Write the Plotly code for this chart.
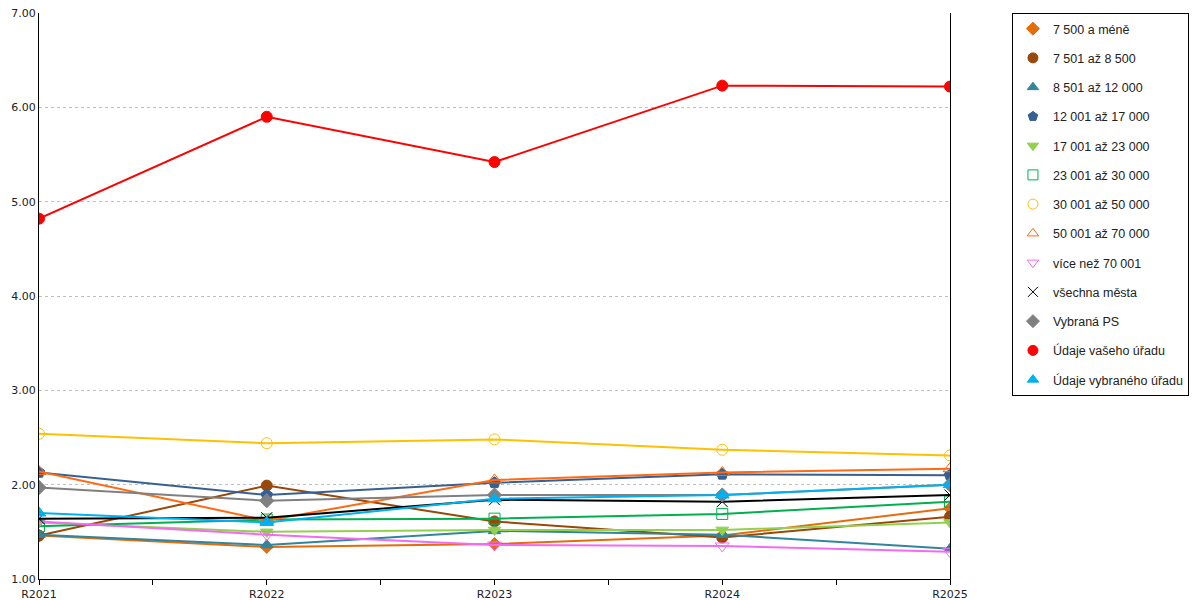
import plotly.graph_objects as go

years = ['R2021', 'R2022', 'R2023', 'R2024', 'R2025']

v_do_7500   = [1.46, 1.34, 1.37, 1.46, 1.75]
v_do_8500   = [1.46, 1.99, 1.61, 1.44, 1.66]
v_do_12000  = [1.47, 1.36, 1.51, 1.47, 1.32]
v_do_17000  = [2.13, 1.89, 2.02, 2.11, 2.10]
v_do_23000  = [1.60, 1.50, 1.52, 1.52, 1.60]
v_do_30000  = [1.56, 1.63, 1.64, 1.69, 1.82]
v_do_50000  = [2.54, 2.44, 2.48, 2.37, 2.31]
v_do_70000  = [2.14, 1.62, 2.05, 2.13, 2.17]
v_nad_70000 = [1.61, 1.47, 1.36, 1.35, 1.29]
v_vsechna   = [1.64, 1.65, 1.84, 1.82, 1.89]
v_ps        = [1.97, 1.83, 1.89, 1.89, 2.00]
v_vas       = [4.82, 5.90, 5.42, 6.23, 6.22]
v_vybrany   = [1.70, 1.60, 1.85, 1.89, 2.00]

# name, values, colour, symbol, marker size
series = [
    ('7 500 a méně',          v_do_7500,   '#E46C0A', 'diamond',            10),
    ('7 501 až 8 500',        v_do_8500,   '#984807', 'circle',             11),
    ('8 501 až 12 000',       v_do_12000,  '#31859C', 'triangle-up',        11),
    ('12 001 až 17 000',      v_do_17000,  '#376092', 'pentagon',           12),
    ('17 001 až 23 000',      v_do_23000,  '#92D050', 'triangle-down',      11),
    ('23 001 až 30 000',      v_do_30000,  '#00B050', 'square-open',        11),
    ('30 001 až 50 000',      v_do_50000,  '#FFC000', 'circle-open',        11),
    ('50 001 až 70 000',      v_do_70000,  '#FF6A13', 'triangle-up-open',   12),
    ('více než 70 001',       v_nad_70000, '#F36BF3', 'triangle-down-open', 12),
    ('všechna města',         v_vsechna,   '#000000', 'x-thin-open',        11),
    ('Vybraná PS',            v_ps,        '#808080', 'diamond',            11),
    ('Údaje vašeho úřadu',    v_vas,       '#FF0000', 'circle',             11),
    ('Údaje vybraného úřadu', v_vybrany,   '#00B0F0', 'triangle-up',        12),
]

xs = list(range(len(years)))

fig = go.Figure()

for name, vals, col, sym, sz in series:
    fig.add_trace(go.Scatter(
        x=xs, y=vals, mode='lines+markers', name=name,
        line=dict(color=col, width=2),
        marker=dict(symbol=sym, size=sz, color=col, line=dict(color=col, width=1)),
        showlegend=False,
    ))

# legend entries show only the marker
for name, vals, col, sym, sz in series:
    fig.add_trace(go.Scatter(
        x=[None], y=[None], mode='markers', name=name,
        marker=dict(symbol=sym, size=10, color=col, line=dict(color=col, width=1)),
        legendgroup=name,
    ))

# page body has an 8px margin, so the figure is a bit smaller than the window
fig.update_layout(
    width=1192, height=592,
    margin=dict(l=31, r=250, t=5, b=21, autoexpand=False),
    paper_bgcolor='white', plot_bgcolor='white',
    font=dict(family='DejaVu Sans', size=11, color='#222222'),
    legend=dict(
        x=1.068, y=1.0, xanchor='left', yanchor='top',
        bordercolor='black', borderwidth=1,
        font=dict(family='Liberation Sans', size=12.5, color='#222222'),
        tracegroupgap=10,
        itemwidth=30,
    ),
)

fig.update_xaxes(
    range=[0, 4], tickvals=xs, ticktext=years,
    showgrid=False, zeroline=False,
    showline=True, linecolor='black', linewidth=1,
    ticks='outside', ticklen=5, tickcolor='black',
    ticklabeloverflow='allow',
    minor=dict(dtick=0.5, tick0=0, ticks='outside', ticklen=5, tickcolor='black', showgrid=False),
)

fig.update_yaxes(
    range=[1, 7], dtick=1, tickformat='.2f',
    showgrid=True, gridcolor='#BFBFBF', griddash='dot', gridwidth=1,
    zeroline=False,
    showline=True, linecolor='black', linewidth=1, mirror=True,
    ticks='', ticklabeloverflow='allow',
)

fig.write_html('out.html')
